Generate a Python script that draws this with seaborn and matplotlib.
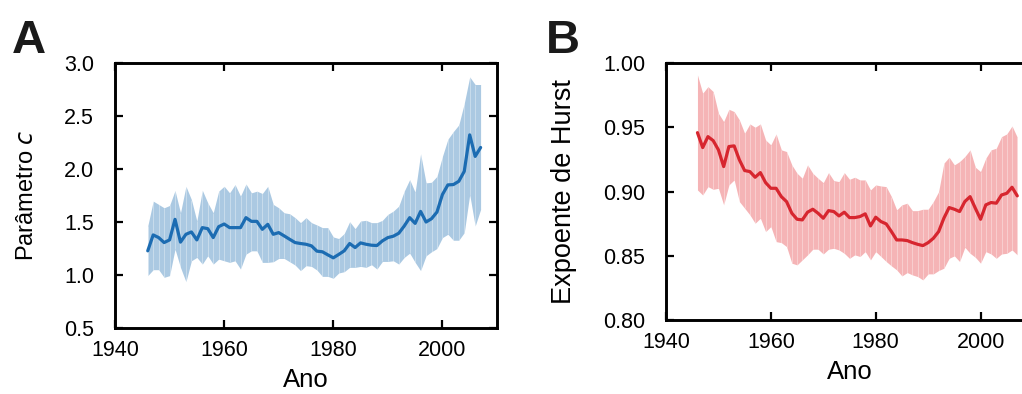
import numpy as np
import pandas as pd
import matplotlib
matplotlib.use("Agg")
import matplotlib.pyplot as plt
import seaborn as sns

years = list(range(1946, 2008))

# Panel A: parameter c (mean and band limits)
c_mean = [1.228, 1.378, 1.353, 1.306, 1.331, 1.525, 1.310, 1.384, 1.406, 1.331,
          1.447, 1.437, 1.353, 1.456, 1.481, 1.447, 1.447, 1.447, 1.541, 1.506,
          1.506, 1.431, 1.478, 1.384, 1.400, 1.369, 1.337, 1.306, 1.297, 1.290,
          1.275, 1.225, 1.219, 1.190, 1.162, 1.194, 1.228, 1.297, 1.259, 1.303,
          1.290, 1.281, 1.278, 1.322, 1.353, 1.366, 1.394, 1.462, 1.541, 1.487,
          1.600, 1.500, 1.531, 1.594, 1.759, 1.850, 1.853, 1.884, 1.978, 2.322,
          2.119, 2.203]
c_upper = [1.462, 1.697, 1.666, 1.634, 1.656, 1.797, 1.587, 1.837, 1.712, 1.509,
           1.800, 1.681, 1.587, 1.791, 1.837, 1.775, 1.853, 1.744, 1.859, 1.775,
           1.791, 1.769, 1.837, 1.666, 1.634, 1.587, 1.578, 1.541, 1.494, 1.541,
           1.494, 1.472, 1.447, 1.447, 1.359, 1.344, 1.391, 1.503, 1.437, 1.509,
           1.516, 1.494, 1.494, 1.516, 1.572, 1.603, 1.650, 1.791, 1.900, 1.781,
           2.144, 1.869, 1.875, 1.931, 2.119, 2.281, 2.353, 2.416, 2.619, 2.869,
           2.797, 2.797]
c_lower = [0.994, 1.050, 1.050, 0.978, 0.994, 1.244, 1.072, 0.937, 1.134, 1.166,
           1.103, 1.181, 1.103, 1.150, 1.134, 1.119, 1.134, 1.056, 1.197, 1.228,
           1.228, 1.119, 1.119, 1.125, 1.156, 1.156, 1.125, 1.094, 1.041, 1.088,
           1.081, 1.047, 0.987, 0.987, 0.969, 1.019, 1.031, 1.072, 1.072, 1.081,
           1.072, 1.097, 1.056, 1.128, 1.128, 1.134, 1.103, 1.166, 1.206, 1.119,
           1.041, 1.181, 1.219, 1.250, 1.353, 1.384, 1.328, 1.328, 1.400, 1.759,
           1.462, 1.619]

# Panel B: Hurst exponent (mean and band limits)
h_mean = [0.9458, 0.9342, 0.9427, 0.9396, 0.9324, 0.9194, 0.9350, 0.9355, 0.9246, 0.9163,
          0.9155, 0.9111, 0.9147, 0.9069, 0.9025, 0.9025, 0.8960, 0.8921, 0.8831, 0.8784,
          0.8779, 0.8839, 0.8862, 0.8831, 0.8792, 0.8851, 0.8844, 0.8810, 0.8839, 0.8797,
          0.8797, 0.8805, 0.8826, 0.8732, 0.8800, 0.8766, 0.8748, 0.8688, 0.8623, 0.8623,
          0.8618, 0.8602, 0.8589, 0.8579, 0.8602, 0.8636, 0.8688, 0.8792, 0.8875, 0.8862,
          0.8844, 0.8922, 0.8960, 0.8870, 0.8784, 0.8896, 0.8914, 0.8909, 0.8973, 0.8986,
          0.9033, 0.8966]
h_upper = [0.9907, 0.9765, 0.9816, 0.9778, 0.9609, 0.9544, 0.9640, 0.9622, 0.9557, 0.9453,
           0.9526, 0.9500, 0.9526, 0.9401, 0.9363, 0.9448, 0.9324, 0.9311, 0.9207, 0.9142,
           0.9103, 0.9207, 0.9142, 0.9103, 0.9069, 0.9147, 0.9085, 0.9077, 0.9147, 0.9095,
           0.9111, 0.9090, 0.9090, 0.9012, 0.9051, 0.9043, 0.9038, 0.8960, 0.8857, 0.8896,
           0.8909, 0.8851, 0.8851, 0.8862, 0.8862, 0.8922, 0.8999, 0.9220, 0.9267, 0.9207,
           0.9233, 0.9272, 0.9324, 0.9189, 0.9155, 0.9259, 0.9324, 0.9337, 0.9427, 0.9448,
           0.9510, 0.9422]
h_lower = [0.9012, 0.8973, 0.9038, 0.9017, 0.9025, 0.8896, 0.9051, 0.9090, 0.8921, 0.8870,
           0.8818, 0.8753, 0.8792, 0.8688, 0.8727, 0.8610, 0.8602, 0.8571, 0.8442, 0.8429,
           0.8468, 0.8507, 0.8551, 0.8551, 0.8514, 0.8551, 0.8558, 0.8545, 0.8519, 0.8480,
           0.8507, 0.8494, 0.8532, 0.8468, 0.8532, 0.8494, 0.8455, 0.8421, 0.8390, 0.8343,
           0.8369, 0.8351, 0.8338, 0.8312, 0.8359, 0.8359, 0.8385, 0.8403, 0.8480, 0.8499,
           0.8455, 0.8566, 0.8519, 0.8488, 0.8442, 0.8532, 0.8514, 0.8480, 0.8514, 0.8519,
           0.8545, 0.8507]

x_ticks = [1940, 1960, 1980, 2000]
c_ticks = [0.5, 1.0, 1.5, 2.0, 2.5, 3.0]
h_ticks = [0.80, 0.85, 0.90, 0.95, 1.00]

sns.set_style("ticks")
plt.rcParams["font.family"] = ["Liberation Sans", "DejaVu Sans"]
plt.rcParams["axes.linewidth"] = 2.1

fig = plt.figure(figsize=(10.22, 3.94), dpi=100)
axA = fig.add_axes([115 / 1022, 1 - 328 / 394, 382 / 1022, 265 / 394])
axB = fig.add_axes([666 / 1022, 1 - 320 / 394, 367 / 1022, 257 / 394])


def draw_panel(ax, mean, lower, upper, line_color, band_color, yticks, yfmt):
    df = pd.DataFrame({"Ano": years, "v": mean})
    ax.fill_between(years, lower, upper, color=band_color, lw=0, zorder=1)
    ax.vlines(years, lower, upper, color="white", lw=0.7, alpha=0.35, zorder=1.5)
    sns.lineplot(data=df, x="Ano", y="v", ax=ax, color=line_color, lw=2.3, zorder=3)
    ax.set_xlim(1940, 2010)
    ax.set_xticks(x_ticks)
    ax.set_yticks(yticks)
    ax.set_ylim(yticks[0], yticks[-1])
    ax.set_yticklabels([yfmt.format(t) for t in yticks])
    ax.tick_params(direction="in", length=6, width=1.6, top=True, right=True,
                   labelsize=15.5, color="black", labelcolor="black")
    ax.tick_params(axis="y", pad=15)
    ax.tick_params(axis="x", pad=9)
    for s in ax.spines.values():
        s.set_visible(True)
        s.set_color("black")
    ax.set_xlabel("Ano", fontsize=18.5, labelpad=5, color="black")


draw_panel(axA, c_mean, c_lower, c_upper, "#1c6cb2", "#abc9e2", c_ticks, "{:.1f}")
draw_panel(axB, h_mean, h_lower, h_upper, "#d7262f", "#f5b4b6", h_ticks, "{:.2f}")

axA.set_ylabel("Parâmetro $\\mathit{c}$", fontsize=17, labelpad=19, color="black")
axB.set_ylabel("Expoente de Hurst", fontsize=19.5, labelpad=19, color="black")

fig.text(12 / 1022, 1 - 53 / 394, "A", fontsize=34, fontweight="bold", color="#1a1a1a")
fig.text(546 / 1022, 1 - 53 / 394, "B", fontsize=34, fontweight="bold", color="#1a1a1a")

fig.savefig("out.png", dpi=100)
